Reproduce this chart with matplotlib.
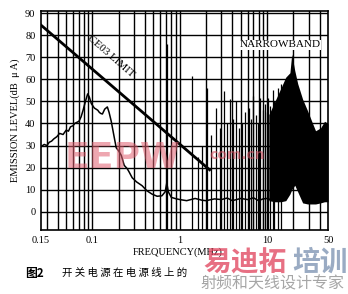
import numpy as np
import matplotlib.pyplot as plt
import matplotlib

matplotlib.rcParams.update({
    "font.family": ["Liberation Serif", "DejaVu Serif"],
    "font.size": 7.5,
})

W, H = 348, 294

# CE03 limit line (MHz, dBuA)
limit_freq = [0.0257, 2.2]
limit_db = [84.6, 19.0]

# broadband emission curve
bb_freq = [0.0257, 0.028, 0.030, 0.032, 0.034, 0.036, 0.039, 0.042, 0.046, 0.050,
           0.053, 0.056, 0.060, 0.0625, 0.066, 0.070, 0.074, 0.078, 0.083, 0.088,
           0.092, 0.097, 0.105, 0.110, 0.115, 0.120, 0.125, 0.130, 0.138, 0.148,
           0.155, 0.164, 0.175, 0.187, 0.200, 0.214, 0.231, 0.250, 0.263, 0.285,
           0.320, 0.370, 0.420, 0.480, 0.550, 0.624, 0.680, 0.710, 0.740, 0.800,
           0.900, 1.0, 1.2, 1.5, 1.8, 2.0, 2.5, 3.0, 3.5, 4.0, 5.0, 6.0, 7.0, 8.0,
           9.0, 10.0, 11.0]
bb_db = [29.5, 30.5, 30.0, 31.5, 32.0, 33.0, 34.0, 35.5, 35.0, 37.0,
         36.5, 38.5, 39.0, 40.0, 40.5, 41.0, 43.0, 46.0, 50.0, 53.4,
         52.0, 49.0, 47.0, 46.5, 46.0, 45.0, 44.5, 44.3, 46.5, 47.5,
         45.0, 41.0, 35.0, 29.0, 27.5, 25.5, 21.0, 19.5, 18.0, 15.4,
         13.5, 11.8, 9.5, 8.0, 7.0, 7.2, 9.0, 13.0, 9.0, 6.5,
         5.9, 5.5, 5.0, 6.0, 5.2, 5.0, 5.8, 5.5, 6.2, 5.0, 6.0, 5.5, 6.3, 5.0,
         5.8, 6.0, 5.5]

# narrowband spikes (MHz, peak dBuA)
spike_freq = [0.711, 1.37, 1.6, 1.8, 2.03, 2.3, 2.63, 2.9, 3.25, 3.5, 3.8, 4.1,
              4.44, 4.8, 5.2, 5.62, 6.24, 6.6, 6.93, 7.5, 7.9, 8.32, 8.9, 9.49,
              9.9, 10.3, 10.8, 11.7, 12.0, 13.3, 14.4]
spike_db = [76, 61.5, 25, 30, 56, 35, 47, 38, 54.8, 40, 51, 42,
            50, 38, 40, 45, 47, 42, 52.5, 44, 40, 51.6, 46, 49,
            45, 51.6, 48, 55, 50, 56, 58]

# dense narrowband region envelope
dense_freq = [10.5, 12.3, 14.4, 16.4, 18.3, 19.2, 20.8, 22.5, 25.6, 29.2, 33.3,
              36.0, 41.1, 45.6, 50.0]
dense_upper = [44, 50, 56, 61, 63, 71.5, 64, 58, 51, 45.7, 40, 36.7, 38, 41, 40]
dense_lower = [5, 4.5, 4.5, 5, 8, 10, 12, 9, 4, 3.5, 3.5, 3.5, 4, 4.5, 4.5]

y_ticks = [0, 10, 20, 30, 40, 50, 60, 70, 80, 90]
x_ticks = [0.0257, 0.1, 1, 10, 50]
x_ticklabels = ["0.15", "0.1", "1", "10", "50"]


def fig_xy(x, y):
    return x / W, 1 - y / H


fig = plt.figure(figsize=(W / 100, H / 100), dpi=100)
ax = fig.add_axes([41 / W, 64 / H, 287 / W, 219 / H])
ax.set_xscale("log")
ax.set_xlim(0.0257, 48)
ax.set_ylim(-8.3, 91)

# grid
grid_x = [m * 10.0 ** e for e in (-2, -1, 0, 1) for m in range(1, 10)]
grid_x = [g for g in grid_x if 0.0257 < g < 48]
for g in grid_x:
    ax.axvline(g, color="black", lw=1.0, zorder=1)
for t in y_ticks:
    ax.axhline(t, color="black", lw=1.0, zorder=1)

# spikes from the bottom of the axes
ax.vlines(spike_freq, -8.3, spike_db, color="black", lw=0.9, zorder=2)
ax.fill_between(dense_freq, dense_lower, dense_upper, color="black", lw=0, zorder=2)
ax.plot(bb_freq, bb_db, color="black", lw=1.1, zorder=3)
ax.plot(limit_freq, limit_db, color="black", lw=2.0, zorder=4)

ax.text(0.16, 70.5, "CE03 LIMIT", rotation=-41, ha="center", va="center",
        fontsize=8, zorder=5)
ax.text(14.1, 75.6, "NARROWBAND", ha="center", va="center", fontsize=8,
        zorder=5, bbox=dict(facecolor="white", edgecolor="none", pad=0.5))

ax.set_xticks(x_ticks)
ax.set_xticklabels(x_ticklabels)
ax.xaxis.set_minor_locator(matplotlib.ticker.NullLocator())
ax.set_yticks(y_ticks)
ax.tick_params(length=0, pad=4, labelsize=7.5)
for s in ax.spines.values():
    s.set_linewidth(1.2)

fig.text(*fig_xy(15, 120), "EMISSION LEVEL(dB  \u03bc A)", rotation=90,
         ha="center", va="center", fontsize=7.5)
fig.text(*fig_xy(178, 252), "FREQUENCY(MHz)", ha="center", va="center", fontsize=7.5)

# watermarks
cjk = ["Noto Sans CJK SC", "DejaVu Sans"]
fig.text(*fig_xy(123, 158), "EEPW", ha="center", va="center", fontsize=26,
         fontweight="bold", color="#e06070", alpha=0.55, family=["DejaVu Sans"])
fig.text(*fig_xy(237, 155), "com.cn", ha="center", va="center", fontsize=10,
         fontweight="bold", color="#d05060", alpha=0.6, family=["DejaVu Sans"])
fig.text(*fig_xy(245, 263), "易迪拓", ha="center", va="center", fontsize=20,
         fontweight="bold", color="#e0405a", alpha=0.75, family=cjk)
fig.text(*fig_xy(320, 263), "培训", ha="center", va="center", fontsize=20,
         fontweight="bold", color="#7088aa", alpha=0.7, family=cjk)

# caption
fig.text(*fig_xy(25, 273), "图2", ha="left", va="center", fontsize=8.5,
         fontweight="bold", family=cjk)
fig.text(*fig_xy(62, 273), "开 关 电 源 在 电 源 线 上 的", ha="left", va="center",
         fontsize=7.5, family=cjk)
fig.text(*fig_xy(272, 284), "射频和天线设计专家", ha="center", va="center",
         fontsize=11.5, color="#909090", alpha=0.8, family=cjk)

fig.savefig("out.png", dpi=100)
